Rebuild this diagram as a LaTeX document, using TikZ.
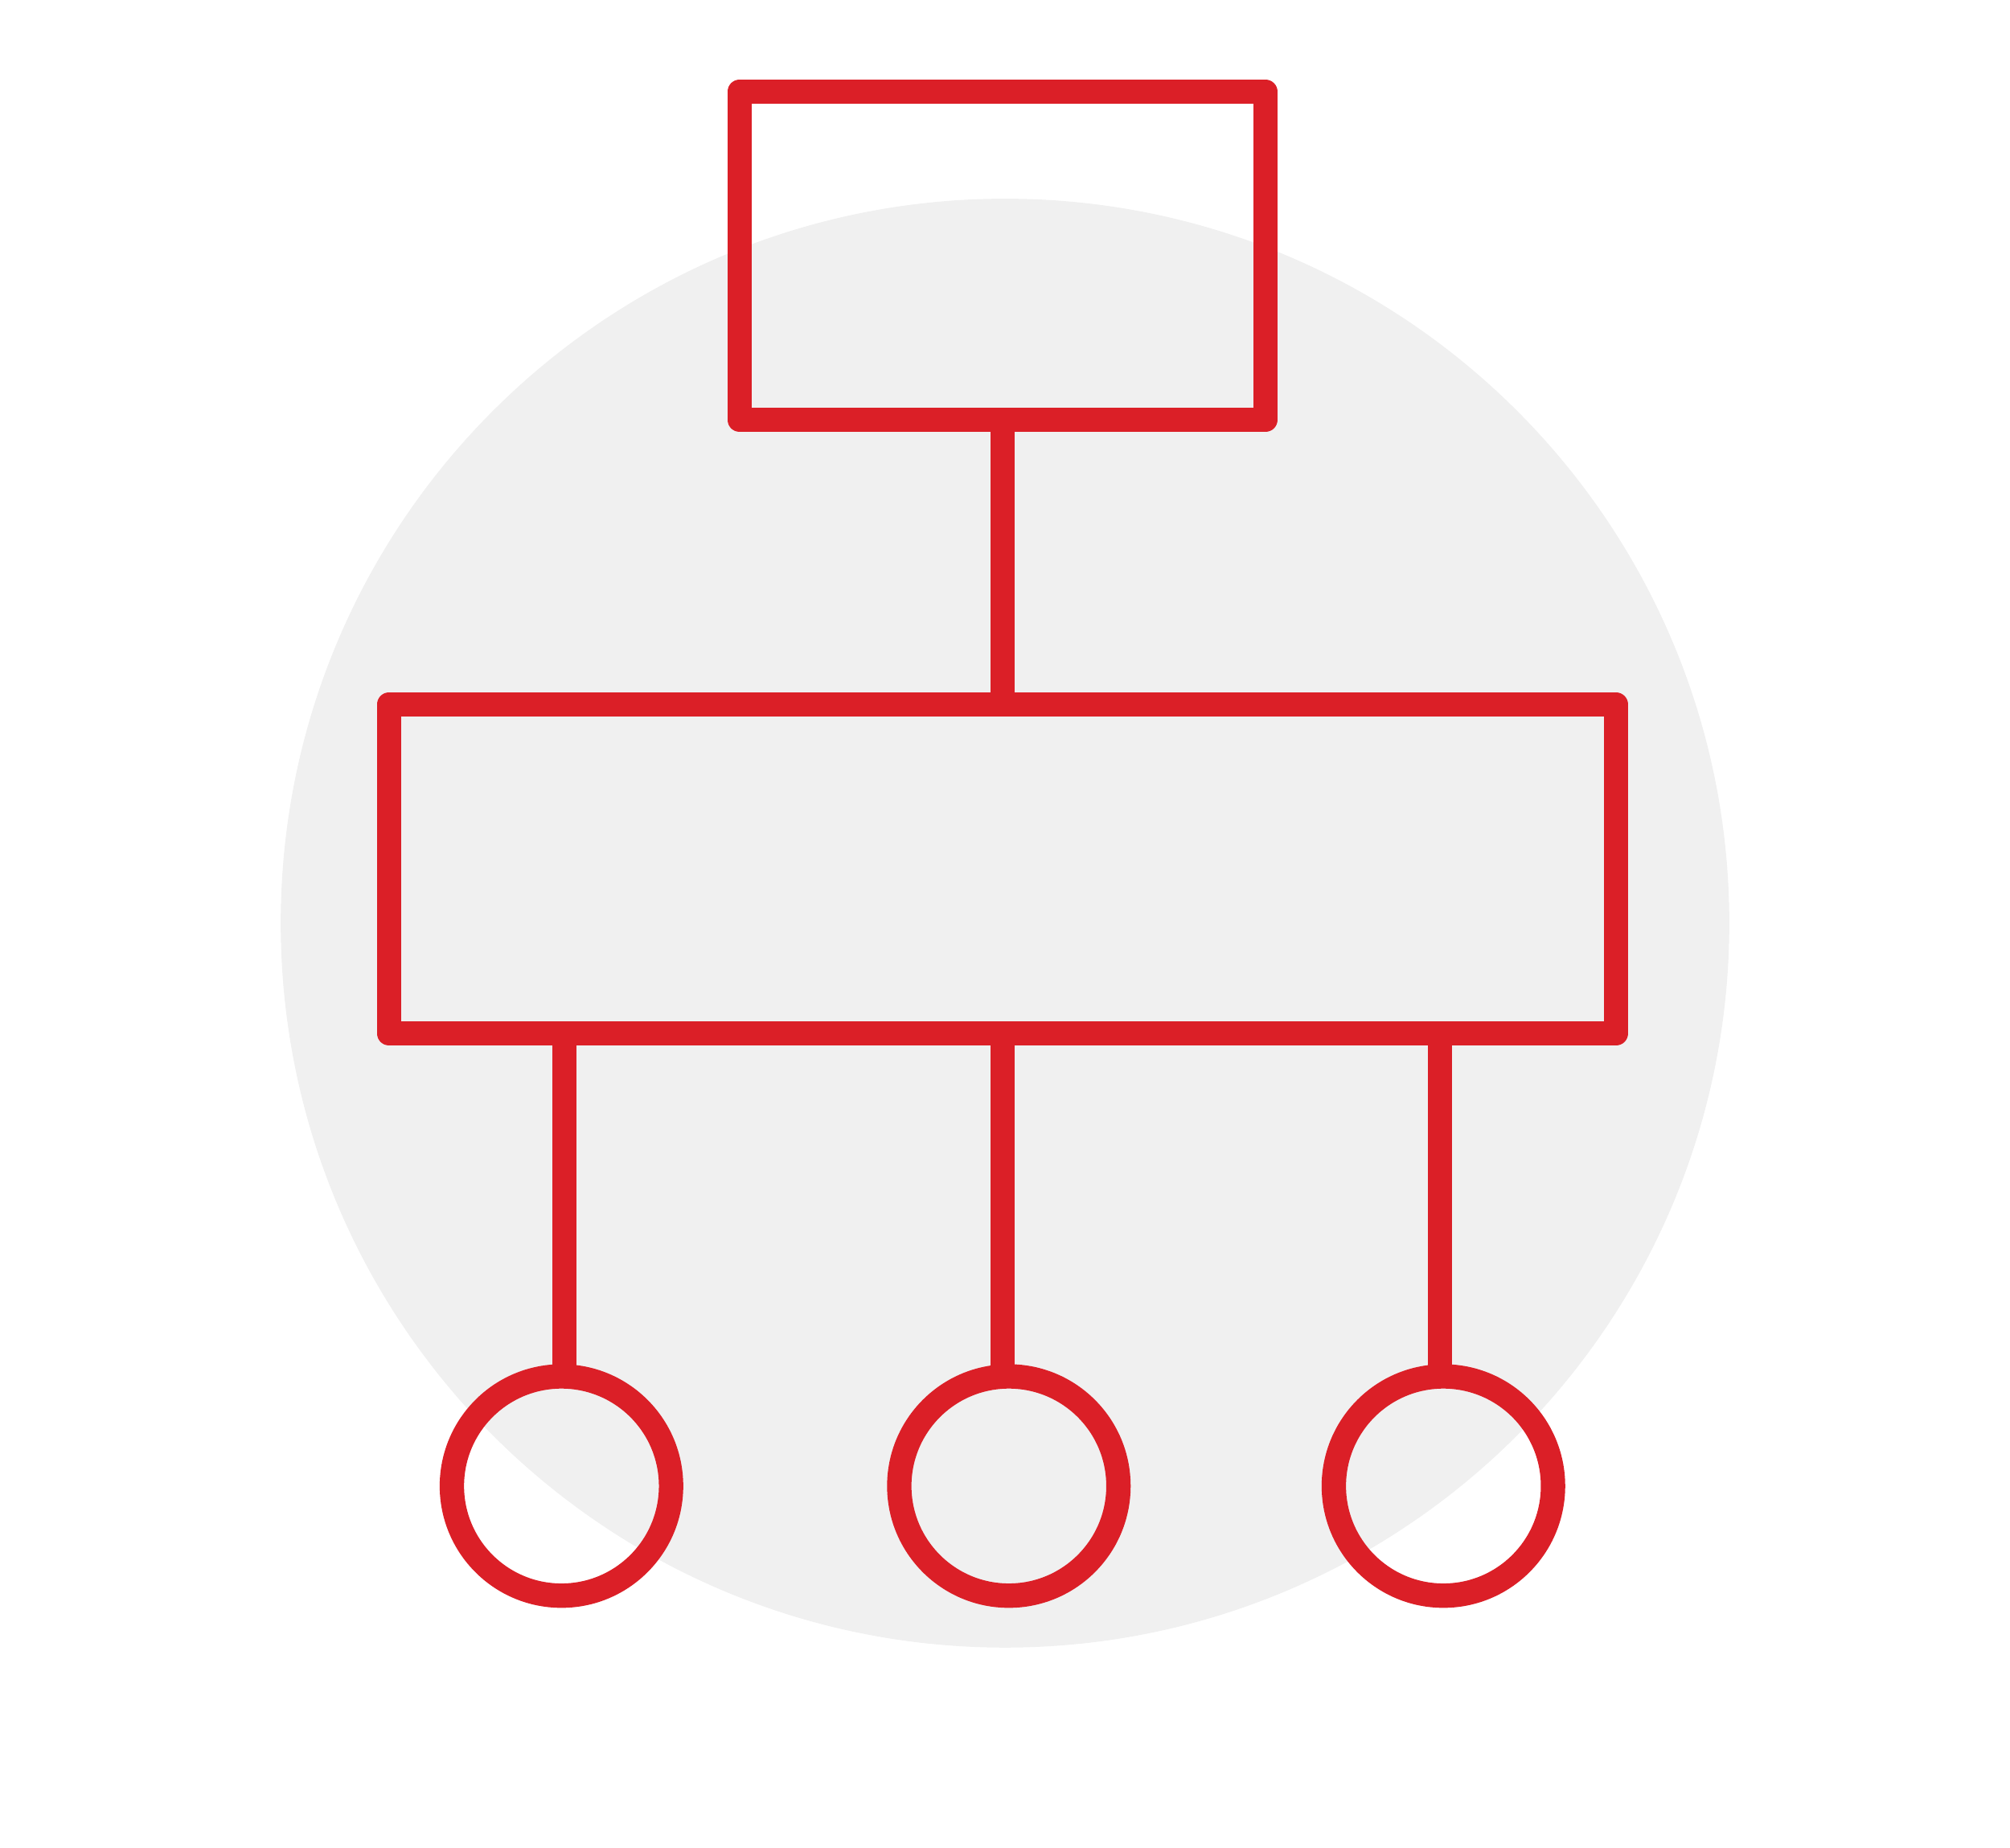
\documentclass[tikz,border=0pt]{standalone}
\usepackage{tikz}
\definecolor{orgred}{HTML}{DB1F27}
\definecolor{backgray}{HTML}{F0F0F0}
\tikzset{
  unit/.style={draw=orgred, line width=0.19cm, line join=round, inner sep=0pt, outer sep=0pt},
  leaf/.style={unit, circle, minimum size=1.71cm},
  link/.style={draw=orgred, line width=0.19cm}
}

\begin{document}
\begin{tikzpicture}
        \useasboundingbox (0,0) rectangle (15.68,14.41);
        \fill[backgray] (7.84,7.21) circle (5.65);
        % boxes
        \node[unit, minimum width=4.1cm, minimum height=2.56cm] (top) at (7.82,12.415) {};
        \node[unit, minimum width=9.57cm, minimum height=2.565cm] (mid) at (7.82,7.6325) {};
        % leaves
        \foreach \x/\n in {4.38/1, 7.87/2, 11.26/3} {
                \node[leaf] (c\n) at (\x,2.82) {};
            }
        % links
        \draw[link] (top.south) -- (mid.north);
        \foreach \x/\n in {4.405/1, 7.82/2, 11.235/3} {
                \draw[link] (mid.south -| {\x,0}) -- ({\x,0} |- c\n.north);
            }
    \end{tikzpicture}
\end{document}
